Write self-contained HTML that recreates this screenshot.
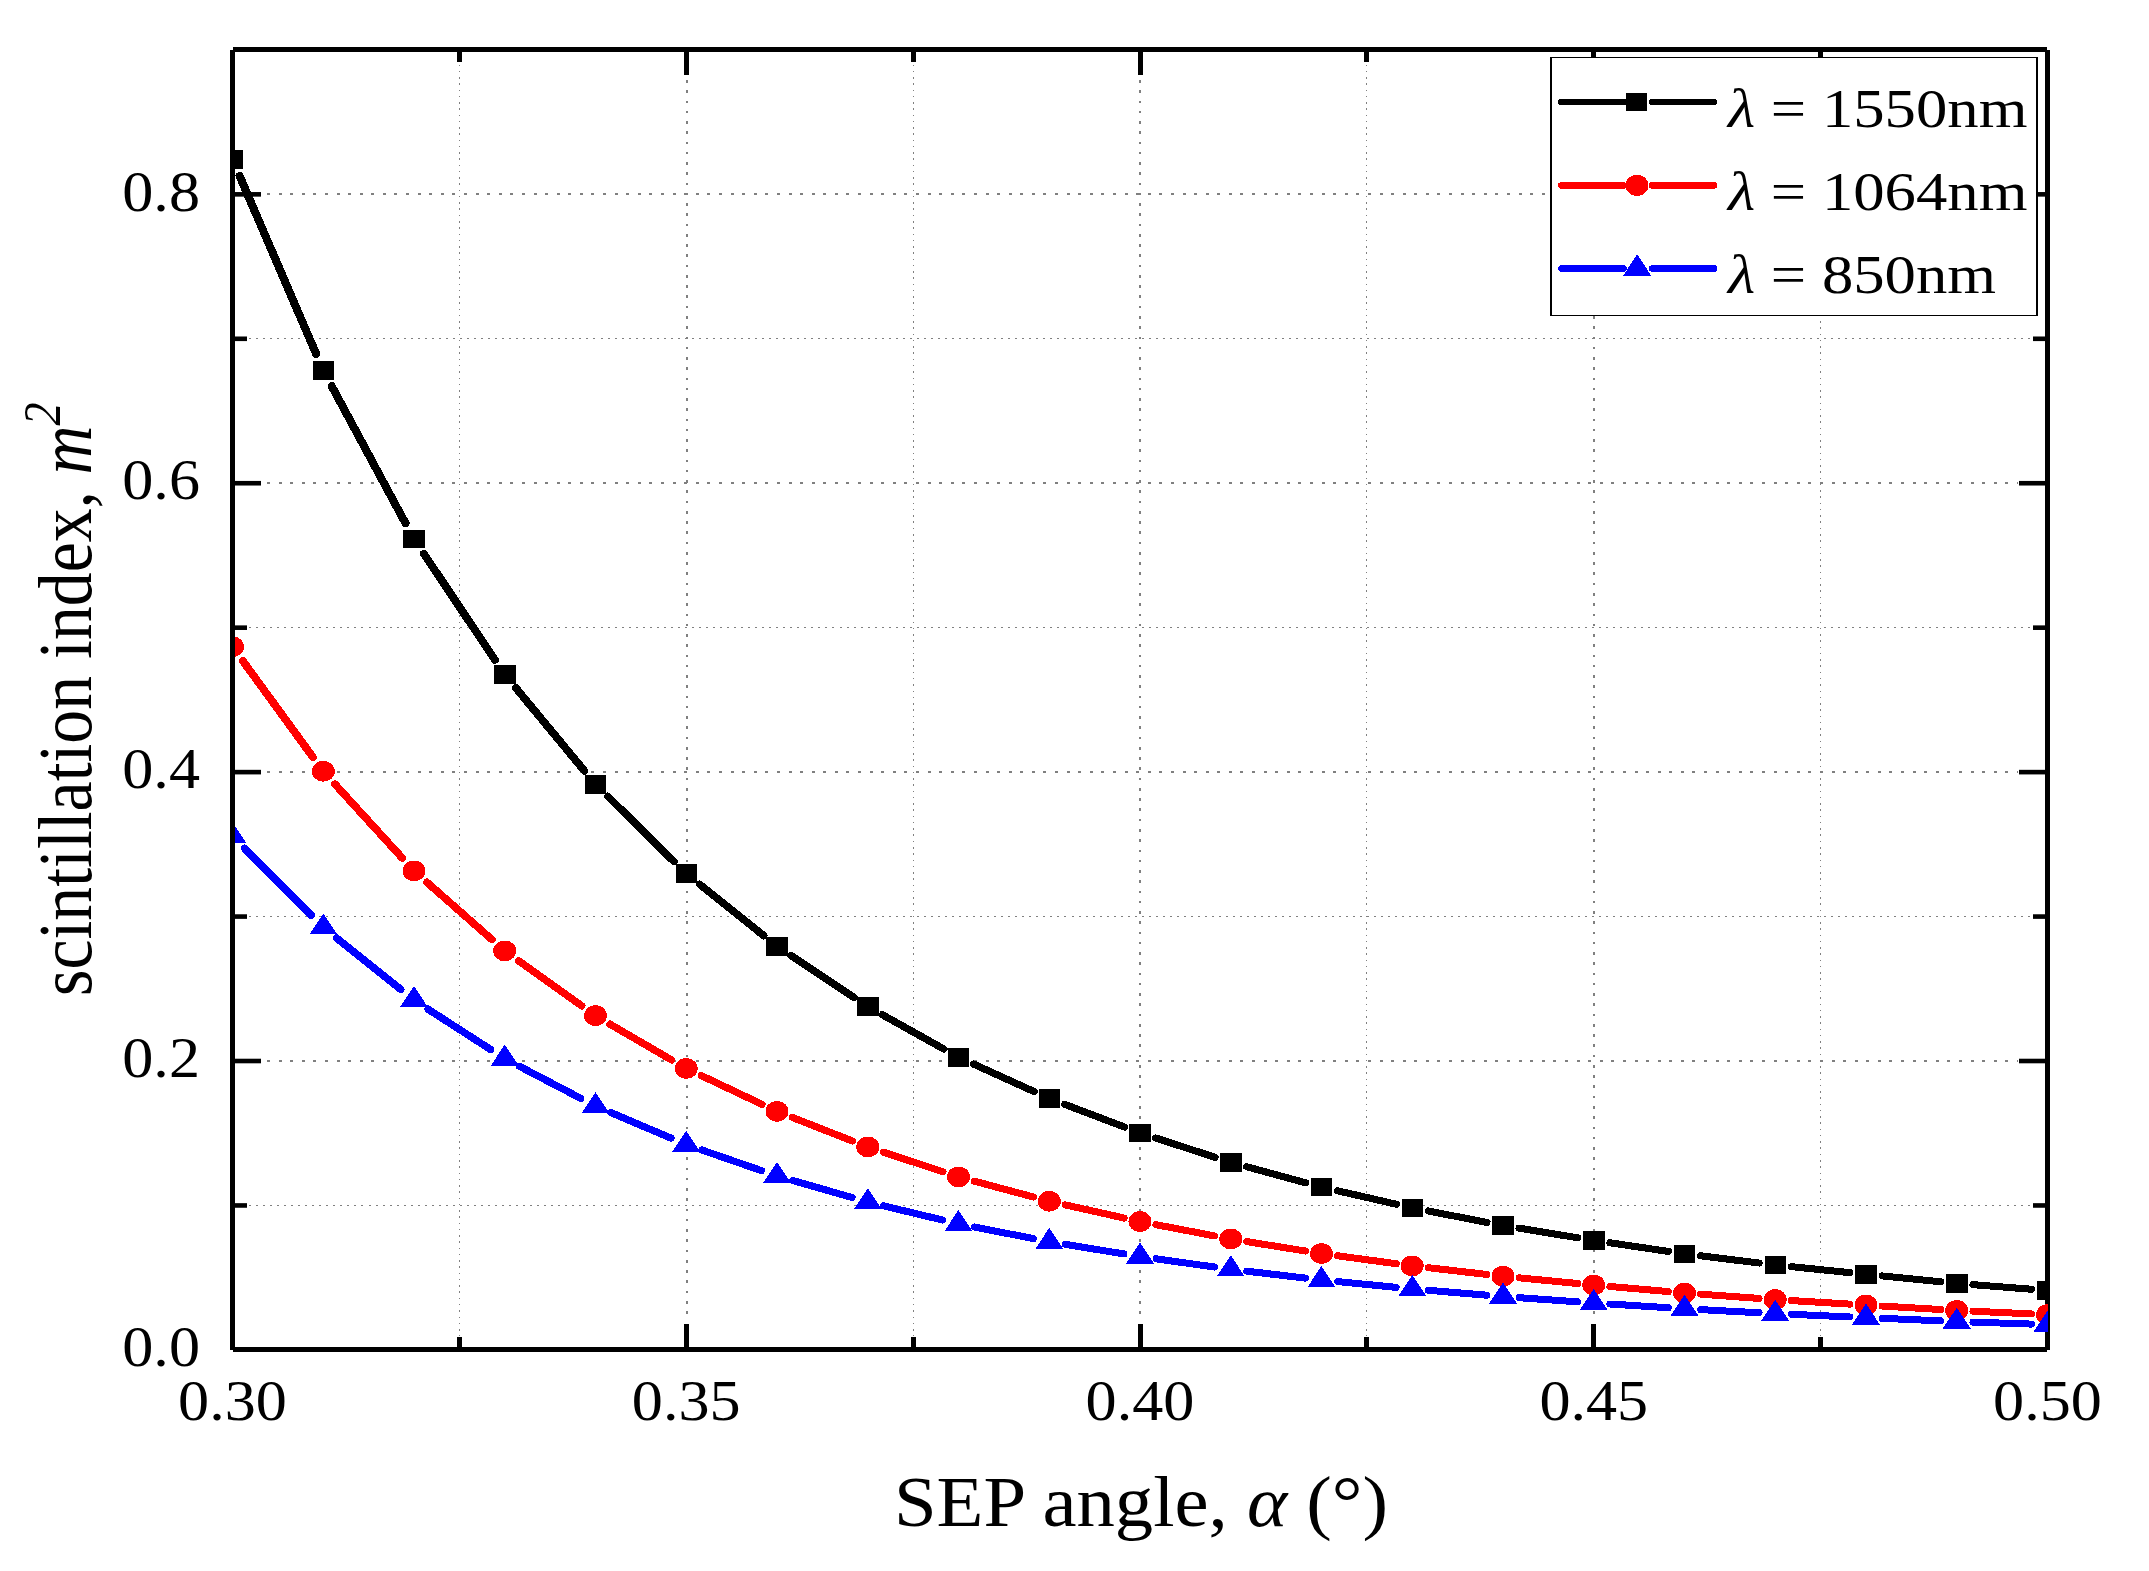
<!DOCTYPE html>
<html lang="en"><head><meta charset="utf-8"><title>Scintillation index vs SEP angle</title>
<style>
html,body{margin:0;padding:0;background:#fff;}
body{width:2149px;height:1571px;overflow:hidden;}
svg{display:block;}
text{font-family:"Liberation Serif", "DejaVu Serif", serif;fill:#000;}
.it{font-style:italic;}
</style></head><body>
<svg width="2149" height="1571" viewBox="0 0 2149 1571">
<rect x="0" y="0" width="2149" height="1571" fill="#fff"/>
<g shape-rendering="crispEdges" fill="none" stroke="#808080">
<line x1="249" x2="2033" y1="1205.5" y2="1205.5" stroke-width="1" stroke-dasharray="2 5.03"/>
<line x1="249" x2="2033" y1="916.5" y2="916.5" stroke-width="1" stroke-dasharray="2 5.03"/>
<line x1="249" x2="2033" y1="627.5" y2="627.5" stroke-width="1" stroke-dasharray="2 5.03"/>
<line x1="249" x2="2033" y1="338.5" y2="338.5" stroke-width="1" stroke-dasharray="2 5.03"/>
<line x1="459.5" x2="459.5" y1="64.5" y2="1336" stroke-width="1" stroke-dasharray="1.5 4.76"/>
<line x1="913.5" x2="913.5" y1="64.5" y2="1336" stroke-width="1" stroke-dasharray="1.5 4.76"/>
<line x1="1366.5" x2="1366.5" y1="64.5" y2="1336" stroke-width="1" stroke-dasharray="1.5 4.76"/>
<line x1="1820.5" x2="1820.5" y1="64.5" y2="1336" stroke-width="1" stroke-dasharray="1.5 4.76"/>
<line x1="267" x2="2018" y1="1061" y2="1061" stroke-width="2" stroke-dasharray="3 8.589"/>
<line x1="267" x2="2018" y1="772" y2="772" stroke-width="2" stroke-dasharray="3 8.589"/>
<line x1="267" x2="2018" y1="483" y2="483" stroke-width="2" stroke-dasharray="3 8.589"/>
<line x1="267" x2="2018" y1="194" y2="194" stroke-width="2" stroke-dasharray="3 8.589"/>
<line x1="687" x2="687" y1="80" y2="1320" stroke-width="2" stroke-dasharray="2.6 7.66"/>
<line x1="1140" x2="1140" y1="80" y2="1320" stroke-width="2" stroke-dasharray="2.6 7.66"/>
<line x1="1594" x2="1594" y1="80" y2="1320" stroke-width="2" stroke-dasharray="2.6 7.66"/>
</g>
<g shape-rendering="crispEdges" fill="#000">
<rect x="233" y="47" width="1814" height="5"/>
<rect x="233" y="1347" width="1814" height="5"/>
<rect x="230" y="50" width="5" height="1300"/>
<rect x="2045" y="50" width="5" height="1300"/>
<rect x="457" y="52" width="5" height="10"/>
<rect x="457" y="1337" width="5" height="10"/>
<rect x="684" y="52" width="5" height="23"/>
<rect x="684" y="1324" width="5" height="23"/>
<rect x="911" y="52" width="5" height="10"/>
<rect x="911" y="1337" width="5" height="10"/>
<rect x="1138" y="52" width="5" height="23"/>
<rect x="1138" y="1324" width="5" height="23"/>
<rect x="1364" y="52" width="5" height="10"/>
<rect x="1364" y="1337" width="5" height="10"/>
<rect x="1591" y="52" width="5" height="23"/>
<rect x="1591" y="1324" width="5" height="23"/>
<rect x="1818" y="52" width="5" height="10"/>
<rect x="1818" y="1337" width="5" height="10"/>
<rect x="235" y="1203.16" width="12" height="4.6" shape-rendering="geometricPrecision"/>
<rect x="2033" y="1203.16" width="12" height="4.6" shape-rendering="geometricPrecision"/>
<rect x="235" y="1058.71" width="26" height="4.6" shape-rendering="geometricPrecision"/>
<rect x="2019" y="1058.71" width="26" height="4.6" shape-rendering="geometricPrecision"/>
<rect x="235" y="914.27" width="12" height="4.6" shape-rendering="geometricPrecision"/>
<rect x="2033" y="914.27" width="12" height="4.6" shape-rendering="geometricPrecision"/>
<rect x="235" y="769.82" width="26" height="4.6" shape-rendering="geometricPrecision"/>
<rect x="2019" y="769.82" width="26" height="4.6" shape-rendering="geometricPrecision"/>
<rect x="235" y="625.38" width="12" height="4.6" shape-rendering="geometricPrecision"/>
<rect x="2033" y="625.38" width="12" height="4.6" shape-rendering="geometricPrecision"/>
<rect x="235" y="480.93" width="26" height="4.6" shape-rendering="geometricPrecision"/>
<rect x="2019" y="480.93" width="26" height="4.6" shape-rendering="geometricPrecision"/>
<rect x="235" y="336.49" width="12" height="4.6" shape-rendering="geometricPrecision"/>
<rect x="2033" y="336.49" width="12" height="4.6" shape-rendering="geometricPrecision"/>
<rect x="235" y="192.04" width="26" height="4.6" shape-rendering="geometricPrecision"/>
<rect x="2019" y="192.04" width="26" height="4.6" shape-rendering="geometricPrecision"/>
</g>
<defs><clipPath id="pc"><rect x="235" y="52" width="1813" height="1295"/></clipPath></defs>
<g clip-path="url(#pc)">
<g stroke="#000" stroke-linecap="round" fill="none" shape-rendering="crispEdges">
<path d="M239.65 176.03L316.10 353.77" stroke-width="8.10"/>
<path d="M331.76 386.20L405.49 523.20" stroke-width="8.01"/>
<path d="M423.88 553.75L494.87 659.75" stroke-width="7.90"/>
<path d="M515.92 688.02L584.33 770.78" stroke-width="7.77"/>
<path d="M607.84 796.44L673.91 861.46" stroke-width="7.64"/>
<path d="M699.58 884.28L763.67 935.62" stroke-width="7.51"/>
<path d="M791.07 955.65L853.68 997.25" stroke-width="7.40"/>
<path d="M882.37 1014.75L943.88 1049.05" stroke-width="7.31"/>
<path d="M973.60 1064.07L1034.15 1091.63" stroke-width="7.22"/>
<path d="M1064.66 1104.34L1124.59 1127.06" stroke-width="7.16"/>
<path d="M1155.61 1137.97L1215.14 1157.33" stroke-width="7.12"/>
<path d="M1246.53 1166.70L1305.72 1182.80" stroke-width="7.09"/>
<path d="M1337.40 1190.74L1396.35 1204.26" stroke-width="7.06"/>
<path d="M1428.23 1211.00L1487.02 1222.40" stroke-width="7.05"/>
<path d="M1519.04 1228.13L1577.71 1237.77" stroke-width="7.03"/>
<path d="M1609.82 1242.77L1668.43 1251.43" stroke-width="7.03"/>
<path d="M1700.61 1255.79L1759.14 1263.01" stroke-width="7.02"/>
<path d="M1791.39 1266.65L1849.86 1272.65" stroke-width="7.01"/>
<path d="M1882.14 1275.92L1940.61 1281.78" stroke-width="7.01"/>
<path d="M1972.91 1284.66L2031.34 1289.24" stroke-width="7.01"/>
</g>
<g fill="#000" shape-rendering="crispEdges">
<rect x="221.8" y="150.1" width="21.5" height="18.6"/>
<rect x="312.5" y="361.1" width="21.5" height="18.6"/>
<rect x="403.3" y="529.7" width="21.5" height="18.6"/>
<rect x="494.0" y="665.2" width="21.5" height="18.6"/>
<rect x="584.7" y="775.0" width="21.5" height="18.6"/>
<rect x="675.5" y="864.3" width="21.5" height="18.6"/>
<rect x="766.2" y="937.0" width="21.5" height="18.6"/>
<rect x="857.0" y="997.3" width="21.5" height="18.6"/>
<rect x="947.8" y="1047.9" width="21.5" height="18.6"/>
<rect x="1038.5" y="1089.2" width="21.5" height="18.6"/>
<rect x="1129.3" y="1123.6" width="21.5" height="18.6"/>
<rect x="1220.0" y="1153.1" width="21.5" height="18.6"/>
<rect x="1310.7" y="1177.8" width="21.5" height="18.6"/>
<rect x="1401.5" y="1198.6" width="21.5" height="18.6"/>
<rect x="1492.2" y="1216.2" width="21.5" height="18.6"/>
<rect x="1583.0" y="1231.1" width="21.5" height="18.6"/>
<rect x="1673.7" y="1244.5" width="21.5" height="18.6"/>
<rect x="1764.5" y="1255.7" width="21.5" height="18.6"/>
<rect x="1855.2" y="1265.0" width="21.5" height="18.6"/>
<rect x="1946.0" y="1274.1" width="21.5" height="18.6"/>
<rect x="2036.8" y="1281.2" width="21.5" height="18.6"/>
</g>
<g stroke="#ff0000" stroke-linecap="round" fill="none" shape-rendering="crispEdges">
<path d="M242.90 661.03L312.85 757.06" stroke-width="7.85"/>
<path d="M334.99 784.22L402.26 858.02" stroke-width="7.71"/>
<path d="M426.89 882.26L491.86 939.55" stroke-width="7.57"/>
<path d="M518.55 960.77L581.70 1005.89" stroke-width="7.44"/>
<path d="M610.00 1024.17L671.75 1060.06" stroke-width="7.33"/>
<path d="M701.27 1075.58L761.98 1104.31" stroke-width="7.24"/>
<path d="M792.36 1117.44L852.39 1140.99" stroke-width="7.17"/>
<path d="M883.35 1152.15L942.90 1171.76" stroke-width="7.13"/>
<path d="M974.29 1181.14L1033.46 1197.04" stroke-width="7.09"/>
<path d="M1065.16 1204.85L1124.09 1218.04" stroke-width="7.06"/>
<path d="M1155.99 1224.67L1214.76 1235.95" stroke-width="7.05"/>
<path d="M1246.80 1241.60L1305.45 1251.02" stroke-width="7.03"/>
<path d="M1337.59 1255.78L1396.16 1263.71" stroke-width="7.02"/>
<path d="M1428.37 1267.73L1486.88 1274.43" stroke-width="7.02"/>
<path d="M1519.15 1277.84L1577.60 1283.51" stroke-width="7.01"/>
<path d="M1609.91 1286.49L1668.34 1291.58" stroke-width="7.01"/>
<path d="M1700.67 1294.17L1759.08 1298.42" stroke-width="7.01"/>
<path d="M1791.43 1300.58L1849.82 1304.12" stroke-width="7.00"/>
<path d="M1882.18 1306.05L1940.57 1309.51" stroke-width="7.00"/>
<path d="M1972.94 1311.22L2031.31 1313.91" stroke-width="7.00"/>
</g>
<g fill="#ff0000" shape-rendering="crispEdges">
<ellipse cx="232.5" cy="646.7" rx="11.5" ry="10.4"/>
<ellipse cx="323.3" cy="771.3" rx="11.5" ry="10.4"/>
<ellipse cx="414.0" cy="870.9" rx="11.5" ry="10.4"/>
<ellipse cx="504.7" cy="950.9" rx="11.5" ry="10.4"/>
<ellipse cx="595.5" cy="1015.7" rx="11.5" ry="10.4"/>
<ellipse cx="686.2" cy="1068.5" rx="11.5" ry="10.4"/>
<ellipse cx="777.0" cy="1111.4" rx="11.5" ry="10.4"/>
<ellipse cx="867.8" cy="1147.0" rx="11.5" ry="10.4"/>
<ellipse cx="958.5" cy="1176.9" rx="11.5" ry="10.4"/>
<ellipse cx="1049.3" cy="1201.3" rx="11.5" ry="10.4"/>
<ellipse cx="1140.0" cy="1221.6" rx="11.5" ry="10.4"/>
<ellipse cx="1230.8" cy="1239.0" rx="11.5" ry="10.4"/>
<ellipse cx="1321.5" cy="1253.6" rx="11.5" ry="10.4"/>
<ellipse cx="1412.2" cy="1265.9" rx="11.5" ry="10.4"/>
<ellipse cx="1503.0" cy="1276.3" rx="11.5" ry="10.4"/>
<ellipse cx="1593.7" cy="1285.1" rx="11.5" ry="10.4"/>
<ellipse cx="1684.5" cy="1293.0" rx="11.5" ry="10.4"/>
<ellipse cx="1775.2" cy="1299.6" rx="11.5" ry="10.4"/>
<ellipse cx="1866.0" cy="1305.1" rx="11.5" ry="10.4"/>
<ellipse cx="1956.8" cy="1310.5" rx="11.5" ry="10.4"/>
<ellipse cx="2047.5" cy="1314.7" rx="11.5" ry="10.4"/>
</g>
<g stroke="#0000ff" stroke-linecap="round" fill="none" shape-rendering="crispEdges">
<path d="M244.73 848.49L311.02 915.05" stroke-width="7.65"/>
<path d="M336.57 938.01L400.68 989.44" stroke-width="7.51"/>
<path d="M428.17 1009.26L490.58 1049.50" stroke-width="7.38"/>
<path d="M519.54 1066.36L580.71 1098.32" stroke-width="7.28"/>
<path d="M610.73 1112.52L671.02 1138.14" stroke-width="7.20"/>
<path d="M701.79 1149.98L761.46 1170.62" stroke-width="7.14"/>
<path d="M792.74 1180.51L852.01 1197.52" stroke-width="7.10"/>
<path d="M883.62 1205.86L942.63 1220.06" stroke-width="7.07"/>
<path d="M974.48 1227.02L1033.27 1238.58" stroke-width="7.05"/>
<path d="M1065.30 1244.34L1123.95 1253.95" stroke-width="7.03"/>
<path d="M1156.09 1258.83L1214.66 1267.05" stroke-width="7.03"/>
<path d="M1246.87 1271.20L1305.38 1278.08" stroke-width="7.02"/>
<path d="M1337.64 1281.57L1396.11 1287.36" stroke-width="7.01"/>
<path d="M1428.41 1290.31L1486.84 1295.20" stroke-width="7.01"/>
<path d="M1519.17 1297.70L1577.58 1301.84" stroke-width="7.01"/>
<path d="M1609.93 1304.02L1668.32 1307.75" stroke-width="7.01"/>
<path d="M1700.68 1309.64L1759.07 1312.75" stroke-width="7.00"/>
<path d="M1791.44 1314.33L1849.81 1316.91" stroke-width="7.00"/>
<path d="M1882.19 1318.33L1940.56 1320.86" stroke-width="7.00"/>
<path d="M1972.94 1322.11L2031.31 1324.08" stroke-width="7.00"/>
</g>
<g fill="#0000ff" shape-rendering="crispEdges">
<path d="M232.5 822.3L246.4 843.2L218.6 843.2Z"/>
<path d="M323.3 913.4L337.2 934.3L309.4 934.3Z"/>
<path d="M414.0 986.2L427.9 1007.1L400.1 1007.1Z"/>
<path d="M504.7 1044.7L518.6 1065.6L490.8 1065.6Z"/>
<path d="M595.5 1092.1L609.4 1113.0L581.6 1113.0Z"/>
<path d="M686.2 1130.7L700.1 1151.6L672.3 1151.6Z"/>
<path d="M777.0 1162.1L790.9 1183.0L763.1 1183.0Z"/>
<path d="M867.8 1188.1L881.6 1209.0L853.9 1209.0Z"/>
<path d="M958.5 1210.0L972.4 1230.9L944.6 1230.9Z"/>
<path d="M1049.3 1227.8L1063.2 1248.7L1035.4 1248.7Z"/>
<path d="M1140.0 1242.6L1153.9 1263.5L1126.1 1263.5Z"/>
<path d="M1230.8 1255.4L1244.7 1276.3L1216.8 1276.3Z"/>
<path d="M1321.5 1266.0L1335.4 1286.9L1307.6 1286.9Z"/>
<path d="M1412.2 1275.0L1426.2 1295.9L1398.3 1295.9Z"/>
<path d="M1503.0 1282.6L1516.9 1303.5L1489.1 1303.5Z"/>
<path d="M1593.7 1289.1L1607.6 1310.0L1579.8 1310.0Z"/>
<path d="M1684.5 1294.8L1698.4 1315.7L1670.6 1315.7Z"/>
<path d="M1775.2 1299.7L1789.1 1320.6L1761.3 1320.6Z"/>
<path d="M1866.0 1303.7L1879.9 1324.6L1852.1 1324.6Z"/>
<path d="M1956.8 1307.6L1970.7 1328.5L1942.8 1328.5Z"/>
<path d="M2047.5 1310.7L2061.4 1331.6L2033.6 1331.6Z"/>
</g>
</g>
<text transform="translate(232.5,1419.5) scale(1.1100,1)" font-size="56.0" text-anchor="middle">0.30</text>
<text transform="translate(686.2,1419.5) scale(1.1100,1)" font-size="56.0" text-anchor="middle">0.35</text>
<text transform="translate(1140.0,1419.5) scale(1.1100,1)" font-size="56.0" text-anchor="middle">0.40</text>
<text transform="translate(1593.8,1419.5) scale(1.1100,1)" font-size="56.0" text-anchor="middle">0.45</text>
<text transform="translate(2047.5,1419.5) scale(1.1100,1)" font-size="56.0" text-anchor="middle">0.50</text>
<text transform="translate(200.0,1366.1) scale(1.1100,1)" font-size="56.0" text-anchor="end">0.0</text>
<text transform="translate(200.0,1077.2) scale(1.1100,1)" font-size="56.0" text-anchor="end">0.2</text>
<text transform="translate(200.0,788.3) scale(1.1100,1)" font-size="56.0" text-anchor="end">0.4</text>
<text transform="translate(200.0,499.4) scale(1.1100,1)" font-size="56.0" text-anchor="end">0.6</text>
<text transform="translate(200.0,210.5) scale(1.1100,1)" font-size="56.0" text-anchor="end">0.8</text>
<text transform="translate(1141,1526.3) scale(1.0805,1)" font-size="71.0" text-anchor="middle">SEP angle, <tspan class="it">α</tspan> (°)</text>
<text transform="translate(91.3,699.2) scale(1.1280,1) rotate(-90)" font-size="67.8" text-anchor="middle">scintillation index, <tspan class="it">m</tspan><tspan class="it" font-size="46.0" dy="-27.5">2</tspan></text>
<g shape-rendering="crispEdges">
<rect x="1550" y="57" width="488" height="259" fill="#000"/>
<rect x="1552" y="58" width="484" height="257" fill="#fff"/>
</g>
<g stroke="#000" stroke-width="6.6" fill="none">
<path d="M1561.3 102.0L1623.5 102.0M1652.2 102.0L1714 102.0" stroke-linecap="round" shape-rendering="crispEdges"/>
</g>
<rect x="1626" y="93.0" width="21" height="18" fill="#000" shape-rendering="crispEdges"/>
<text transform="translate(1728,126.7) scale(1.1200,1)" font-size="56.0"><tspan class="it">λ</tspan> = 1550nm</text>
<g stroke="#ff0000" stroke-width="6.6" fill="none">
<path d="M1561.3 185.4L1623.5 185.4M1652.2 185.4L1714 185.4" stroke-linecap="round" shape-rendering="crispEdges"/>
</g>
<ellipse cx="1637" cy="185.4" rx="11.4" ry="10.6" fill="#ff0000" shape-rendering="crispEdges"/>
<text transform="translate(1728,210.1) scale(1.1200,1)" font-size="56.0"><tspan class="it">λ</tspan> = 1064nm</text>
<g stroke="#0000ff" stroke-width="6.6" fill="none">
<path d="M1561.3 268.5L1623.5 268.5M1652.2 268.5L1714 268.5" stroke-linecap="round" shape-rendering="crispEdges"/>
</g>
<path d="M1637.2 254.1L1651.3 275.8L1623.1 275.8Z" fill="#0000ff" shape-rendering="crispEdges"/>
<text transform="translate(1728,293.2) scale(1.1200,1)" font-size="56.0"><tspan class="it">λ</tspan> = 850nm</text>
</svg>
</body></html>
